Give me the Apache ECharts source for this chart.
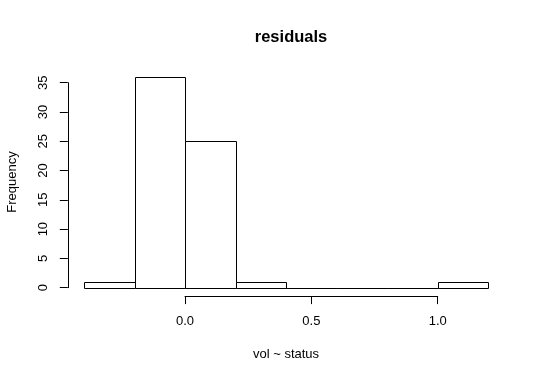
<!DOCTYPE html>
<html><head><meta charset="utf-8">
<script src="https://cdn.jsdelivr.net/npm/echarts@6/dist/echarts.min.js"></script>
<style>html,body{margin:0;padding:0;background:#fff}#c{width:540px;height:381px}</style>
</head><body><div id="c"></div>
<script>
var binStarts = [-0.4, -0.2, 0.0, 0.2, 0.4, 0.6, 0.8, 1.0];
var binEnds   = [-0.2,  0.0, 0.2, 0.4, 0.6, 0.8, 1.0, 1.2];
var counts    = [1, 36, 25, 1, 0, 0, 0, 1];
var xTicks = [0.0, 0.5, 1.0];
var yTicks = [0, 5, 10, 15, 20, 25, 30, 35];
var titleText = 'residuals';
var xLabel = 'vol ~ status';
var yLabel = 'Frequency';

var FONT = '"Liberation Sans", Arial, sans-serif';
var chart = echarts.init(document.getElementById('c'), null, {renderer:'canvas'});
var data = binStarts.map(function(s,i){return [s, binEnds[i], counts[i]];});
var xMin = -0.464, xMax = 1.264, yMin = -1.44, yMax = 37.44;
chart.setOption({
  animation:false,
  backgroundColor:'#fff',
  title:{text:titleText, left:286, top:24, textAlign:'center',
    textStyle:{fontFamily:FONT, fontSize:16.5, fontWeight:'bold', color:'#000'}},
  grid:[
    {left:67.8, right:35.6, top:68.3, bottom:84.9},
    {left:185, right:102.3, top:68.3, bottom:84.9},
    {left:67.8, right:35.6, top:82.7, bottom:93.3}
  ],
  xAxis:[
    {gridIndex:0, type:'value', min:xMin, max:xMax, show:false},
    {gridIndex:1, type:'value', min:xTicks[0], max:xTicks[xTicks.length-1], interval:0.5, position:'bottom',
      axisLine:{show:true, onZero:false, lineStyle:{color:'#000', width:1}},
      axisTick:{show:true, length:8, lineStyle:{color:'#000'}},
      splitLine:{show:false},
      axisLabel:{margin:19, color:'#000', fontFamily:FONT, fontSize:13,
        formatter:function(v){return v.toFixed(1);}}},
    {gridIndex:2, type:'value', min:xMin, max:xMax, show:false}
  ],
  yAxis:[
    {gridIndex:0, type:'value', min:yMin, max:yMax, show:false},
    {gridIndex:1, type:'value', min:yMin, max:yMax, show:false},
    {gridIndex:2, type:'value', min:yTicks[0], max:yTicks[yTicks.length-1], interval:5, position:'left',
      axisLine:{show:true, onZero:false, lineStyle:{color:'#000', width:1}},
      axisTick:{show:true, length:8, lineStyle:{color:'#000'}},
      splitLine:{show:false},
      axisLabel:{margin:18, rotate:90, color:'#000', fontFamily:FONT, fontSize:13}}
  ],
  graphic:[
    {type:'text', x:286, y:354, style:{text:xLabel, fontFamily:FONT, fontSize:13, fill:'#000',
      textAlign:'center', textVerticalAlign:'middle'}},
    {type:'text', rotation:Math.PI/2, x:12, y:182, style:{text:yLabel, fontFamily:FONT, fontSize:13, fill:'#000',
      textAlign:'center', textVerticalAlign:'middle'}}
  ],
  series:[{
    type:'custom', xAxisIndex:0, yAxisIndex:0, data:data,
    renderItem:function(params, api){
      var p0 = api.coord([api.value(0), api.value(2)]);
      var p1 = api.coord([api.value(1), 0]);
      var x0 = Math.round(p0[0])+0.5, x1 = Math.round(p1[0])+0.5;
      var y0 = Math.round(p0[1])+0.5, y1 = Math.round(p1[1])+0.5;
      return {type:'polygon', shape:{points:[[x0,y1],[x0,y0],[x1,y0],[x1,y1]]},
        style:{fill:'#fff', stroke:'#000', lineWidth:1}};
    }
  }]
});
</script></body></html>
